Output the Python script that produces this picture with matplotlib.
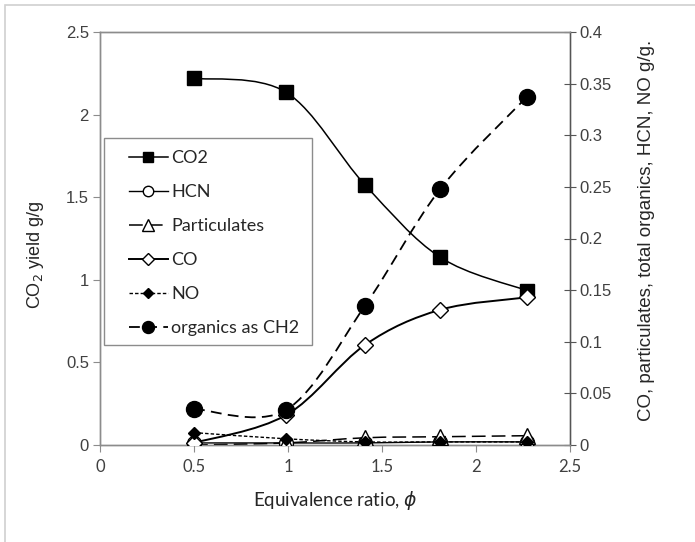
import numpy as np
import matplotlib.pyplot as plt
from matplotlib.path import Path
from matplotlib.patches import PathPatch, Rectangle
from matplotlib.lines import Line2D

# Data

phi = [0.5, 0.99, 1.41, 1.81, 2.27]

co2 = [2.22, 2.135, 1.574, 1.136, 0.935]          # left axis, g/g
hcn = [0.002, 0.002, 0.002, 0.003, 0.003]         # right axis, g/g
particulates = [0.0, 0.002, 0.007, 0.008, 0.009]
co = [0.002, 0.029, 0.097, 0.131, 0.143]
no = [0.012, 0.006, 0.003, 0.003, 0.003]
organics = [0.035, 0.034, 0.135, 0.248, 0.337]

x_ticks = [0, 0.5, 1, 1.5, 2, 2.5]
left_ticks = [0, 0.5, 1, 1.5, 2, 2.5]
right_ticks = [0, 0.05, 0.1, 0.15, 0.2, 0.25, 0.3, 0.35, 0.4]


def smooth_path(xs, ys):
    # Excel style smoothed line: cubic bezier through every point
    xs = np.asarray(xs, float)
    ys = np.asarray(ys, float)
    px = np.concatenate([[xs[0]], xs, [xs[-1]]])
    py = np.concatenate([[ys[0]], ys, [ys[-1]]])
    verts = [(xs[0], ys[0])]
    codes = [Path.MOVETO]
    for i in range(1, len(xs)):
        c1 = (px[i] + (px[i + 1] - px[i - 1]) / 6, py[i] + (py[i + 1] - py[i - 1]) / 6)
        c2 = (px[i + 1] - (px[i + 2] - px[i]) / 6, py[i + 1] - (py[i + 2] - py[i]) / 6)
        verts += [c1, c2, (px[i + 1], py[i + 1])]
        codes += [Path.CURVE4] * 3
    return Path(verts, codes)


arial = "Liberation Sans"
calibri = "Lato"
frame_col = "#8c8c8c"
text_col = "#404040"

fig = plt.figure(figsize=(6.95, 5.42), dpi=100)
ax = fig.add_axes([100 / 695, 97 / 542, 470 / 695, 413 / 542])
ax2 = ax.twinx()

# series: (axis, y, marker, size, face, line style, line width, label)
series = [
    (ax, co2, "s", 10, "black", "-", 1.1, "CO2"),
    (ax2, hcn, "o", 10, "white", "-", 1.0, "HCN"),
    (ax2, particulates, "^", 11, "white", (0, (9, 4)), 1.1, "Particulates"),
    (ax2, co, "D", 8, "white", "-", 1.4, "CO"),
    (ax2, no, "D", 6.5, "black", (0, (2.5, 1.5)), 1.0, "NO"),
    (ax2, organics, "o", 11.5, "black", (0, (6, 3.5)), 1.3, "organics as CH2"),
]

handles = []
for a, ys, m, ms, fc, ls, lw, lab in series:
    patch = PathPatch(smooth_path(phi, ys), facecolor="none", edgecolor="black",
                      linewidth=lw, linestyle=ls, zorder=2)
    a.add_patch(patch)
    a.plot(phi, ys, linestyle="none", marker=m, markersize=ms,
           markerfacecolor=fc, markeredgecolor="black", markeredgewidth=1.0, zorder=3)
    handles.append(Line2D([], [], color="black", linestyle=ls, linewidth=lw, marker=m,
                          markersize=ms * 0.75, markerfacecolor=fc, markeredgecolor="black"))

ax.set_xlim(0, 2.5)
ax.set_ylim(0, 2.5)
ax2.set_ylim(0, 0.4)

ax.set_xticks(x_ticks)
ax.set_xticklabels([f"{v:g}" for v in x_ticks], fontfamily=calibri, fontsize=12, color=text_col)
ax.set_yticks(left_ticks)
ax.set_yticklabels([f"{v:g}" for v in left_ticks], fontfamily=arial, fontsize=12, color=text_col)
ax2.set_yticks(right_ticks)
ax2.set_yticklabels([f"{v:g}" for v in right_ticks], fontfamily=arial, fontsize=12, color=text_col)

ax.tick_params(axis="x", direction="out", length=5, color=frame_col, pad=5)
ax.tick_params(axis="y", direction="out", length=5, color=frame_col, pad=3)
ax2.tick_params(axis="y", direction="inout", length=8, color="#555555", pad=3)

for a in (ax, ax2):
    for s in a.spines.values():
        s.set_color(frame_col)
        s.set_linewidth(1.0)
ax2.spines["right"].set_color("#555555")

ax.set_xlabel("Equivalence ratio, $\\phi$", fontfamily=calibri, fontsize=13.5,
              color="#262626", labelpad=10)
ax.set_ylabel("CO$_2$ yield g/g", fontfamily=arial, fontsize=13, color="#262626", labelpad=10)
ax.yaxis.set_label_coords(-0.115, 0.46)
ax2.set_ylabel("CO, particulates, total organics, HCN, NO g/g.", fontfamily=arial,
               fontsize=13.5, color="#262626", labelpad=8)
ax2.yaxis.set_label_coords(1.145, 0.52)

# legend: frame drawn separately to match the reference box
leg = ax2.legend(handles, [s[-1] for s in series], loc="upper left",
                 bbox_to_anchor=(29 / 470, 295 / 413), borderaxespad=0, borderpad=0,
                 prop={"family": calibri, "size": 13}, handlelength=2.15,
                 labelspacing=1.0, handletextpad=0.2, frameon=False)
for t in leg.get_texts():
    t.set_color("#262626")
ax2.add_patch(Rectangle((4 / 470, 100 / 413), 208 / 470, 207 / 413, transform=ax2.transAxes,
                        facecolor="none", edgecolor=frame_col, linewidth=1.0, zorder=4))

# outer chart border
fig.add_artist(Rectangle((5 / 695, -0.05), 1.1, 1 - 5 / 542 + 0.05, transform=fig.transFigure,
                         facecolor="none", edgecolor="#d0d0d0", linewidth=1.2))

plt.savefig("out.png", dpi=100)
